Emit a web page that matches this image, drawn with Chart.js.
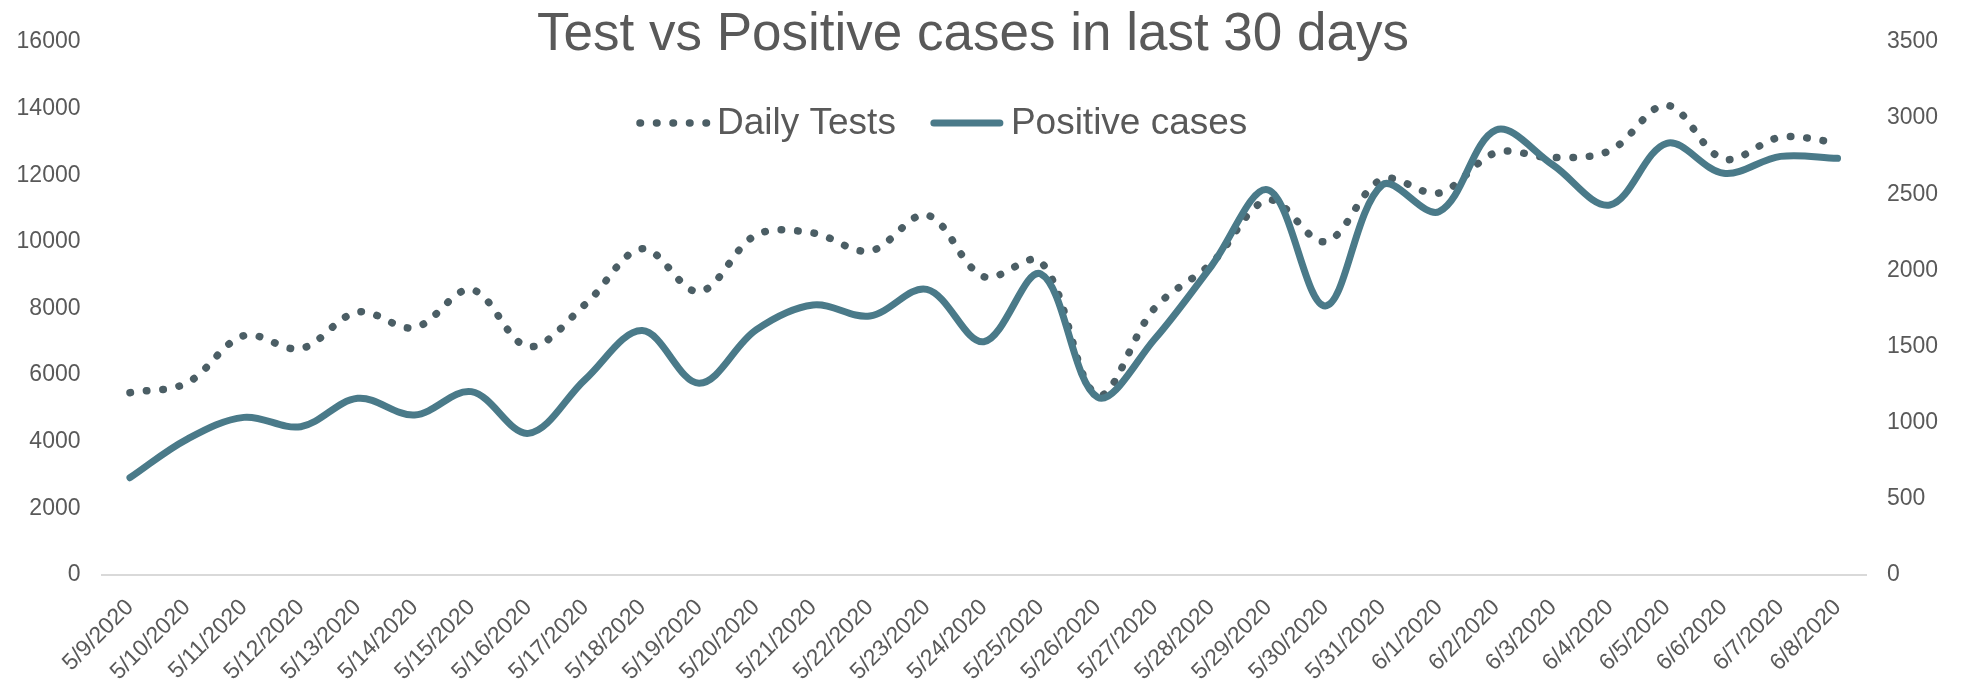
<!DOCTYPE html>
<html>
<head>
<meta charset="utf-8">
<script src="https://cdn.jsdelivr.net/npm/chart.js@4.4.1/dist/chart.umd.min.js"></script>
<style>
html,body{margin:0;padding:0;background:#ffffff;}
canvas{display:block;}
</style>
</head>
<body>
<canvas id="chart" width="1962" height="683"></canvas>
<script>
// ---------- data ----------
const categories = ['5/9/2020','5/10/2020','5/11/2020','5/12/2020','5/13/2020','5/14/2020','5/15/2020','5/16/2020','5/17/2020','5/18/2020','5/19/2020','5/20/2020','5/21/2020','5/22/2020','5/23/2020','5/24/2020','5/25/2020','5/26/2020','5/27/2020','5/28/2020','5/29/2020','5/30/2020','5/31/2020','6/1/2020','6/2/2020','6/3/2020','6/4/2020','6/5/2020','6/6/2020','6/7/2020','6/8/2020'];
const dailyTests = [5473, 5764, 7185, 6795, 7895, 7424, 8566, 6855, 8126, 9796, 8505, 10207, 10267, 9726, 10807, 8955, 9406, 5404, 8006, 9357, 11258, 10006, 11879, 11468, 12678, 12528, 12738, 14100, 12488, 13140, 12978];
const positiveCases = [639, 891, 1035, 974, 1160, 1051, 1204, 930, 1285, 1605, 1259, 1609, 1773, 1701, 1876, 1532, 1977, 1167, 1548, 2029, 2528, 1767, 2561, 2386, 2922, 2692, 2430, 2835, 2638, 2749, 2736];
const leftTicks = [0, 2000, 4000, 6000, 8000, 10000, 12000, 14000, 16000];
const rightTicks = [0, 500, 1000, 1500, 2000, 2500, 3000, 3500];
const seriesNames = ['Daily Tests', 'Positive cases'];
const titleText = 'Test vs Positive cases in last 30 days';

// ---------- style ----------
const FONT = "'Liberation Sans', Arial, Helvetica, sans-serif";
const TEXT = '#595959';
const TESTS_COLOR = '#4B5E65';
const POS_COLOR = '#4A7A89';

Chart.defaults.font.family = FONT;
Chart.defaults.color = TEXT;

const overlayPlugin = {
  id: 'overlay',
  afterDraw(chart) {
    const ctx = chart.ctx;
    ctx.save();
    // title
    ctx.fillStyle = TEXT;
    ctx.font = '53px ' + FONT;
    ctx.textAlign = 'center';
    ctx.textBaseline = 'alphabetic';
    ctx.fillText(titleText, 973, 50);
    // legend
    ctx.font = '37px ' + FONT;
    ctx.textAlign = 'left';
    ctx.textBaseline = 'middle';
    const ly = 123;
    let x = 640;
    const sampleLen = 66;
    chart.data.datasets.forEach(ds => {
      ctx.save();
      ctx.strokeStyle = ds.borderColor;
      ctx.lineWidth = ds.borderWidth;
      ctx.lineCap = 'round';
      ctx.setLineDash(ds.borderDash || []);
      ctx.beginPath();
      ctx.moveTo(x, ly);
      ctx.lineTo(x + sampleLen + (ds.borderDash ? 0.6 : 0), ly);
      ctx.stroke();
      ctx.restore();
      const tx = x + sampleLen + 11;
      ctx.fillStyle = TEXT;
      ctx.fillText(ds.label, tx, ly + 1);
      x = tx + ctx.measureText(ds.label).width + 38;
    });
    ctx.restore();
  }
};

new Chart(document.getElementById('chart'), {
  type: 'line',
  data: {
    labels: categories,
    datasets: [
      {
        label: seriesNames[0],
        data: dailyTests,
        yAxisID: 'yLeft',
        borderColor: TESTS_COLOR,
        backgroundColor: TESTS_COLOR,
        borderWidth: 7.5,
        borderDash: [0.5, 16],
        borderCapStyle: 'round',
        pointRadius: 0,
        tension: 0.35,
        fill: false,
        order: 1
      },
      {
        label: seriesNames[1],
        data: positiveCases,
        yAxisID: 'yRight',
        borderColor: POS_COLOR,
        backgroundColor: POS_COLOR,
        borderWidth: 7,
        borderCapStyle: 'round',
        borderJoinStyle: 'round',
        pointRadius: 0,
        tension: 0.35,
        fill: false,
        order: 0
      }
    ]
  },
  options: {
    responsive: false,
    animation: false,
    events: [],
    layout: { padding: { top: 42, left: 0, right: 0, bottom: 0 } },
    plugins: {
      legend: { display: false },
      title: { display: false },
      tooltip: { enabled: false }
    },
    scales: {
      x: {
        type: 'category',
        offset: true,
        grid: { display: false, drawTicks: false },
        border: { display: true, color: '#D9D9D9', width: 2 },
        ticks: {
          autoSkip: false,
          minRotation: 45,
          maxRotation: 45,
          padding: 19,
          color: TEXT,
          font: { size: 23, family: FONT }
        },
        afterFit(scale) { scale.height = 108; }
      },
      yLeft: {
        type: 'linear',
        position: 'left',
        min: leftTicks[0],
        max: leftTicks[leftTicks.length - 1],
        grid: { display: false, drawTicks: false },
        border: { display: false },
        ticks: {
          stepSize: leftTicks[1] - leftTicks[0],
          padding: 21,
          color: TEXT,
          font: { size: 23, family: FONT },
          callback: v => String(v)
        },
        afterFit(scale) { scale.width = 101.5; }
      },
      yRight: {
        type: 'linear',
        position: 'right',
        min: rightTicks[0],
        max: rightTicks[rightTicks.length - 1],
        grid: { display: false, drawTicks: false },
        border: { display: false },
        ticks: {
          stepSize: rightTicks[1] - rightTicks[0],
          padding: 21,
          color: TEXT,
          font: { size: 23, family: FONT },
          callback: v => String(v)
        },
        afterFit(scale) { scale.width = 96; }
      }
    }
  },
  plugins: [overlayPlugin]
});
</script>
</body>
</html>
